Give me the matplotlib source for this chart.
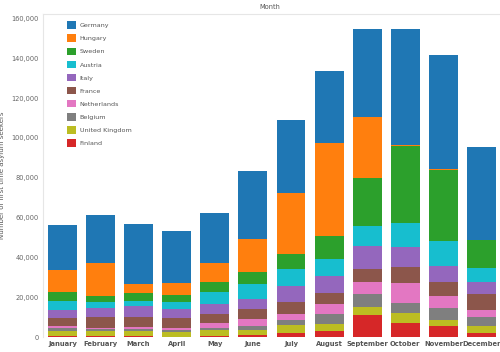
import matplotlib.pyplot as plt
import numpy as np
from matplotlib.ticker import FuncFormatter

# Months and first time asylum seekers per country
meses = ['January', 'February', 'March', 'April', 'May', 'June', 'July',
         'August', 'September', 'October', 'November', 'December']

finland = [500, 600, 300, 200, 700, 800, 2000, 2800, 10900, 7000, 5700, 2000]
united_kingdom = [2700, 2500, 2850, 2500, 2700, 2850, 4200, 3700, 4000, 5000, 3000, 3300]
belgium = [1200, 850, 1000, 850, 1200, 2000, 2500, 5200, 6700, 5300, 5900, 4500]
netherlands = [1200, 800, 650, 850, 2500, 3350, 3000, 5000, 6000, 10000, 5800, 3900]
france = [3900, 5200, 5500, 5000, 4500, 5000, 5700, 5400, 6800, 7700, 7200, 7900]
italy = [4200, 4500, 5500, 4500, 5000, 5200, 8400, 8700, 11400, 10000, 8200, 6000]
austria = [4200, 3300, 2500, 3800, 6000, 7500, 8500, 8500, 10200, 12400, 12200, 7300]
sweden = [4500, 3000, 3700, 3350, 4800, 6200, 7400, 11600, 23800, 38700, 36000, 13600]
hungary = [11400, 16600, 4700, 6200, 9700, 16300, 30700, 46600, 30700, 300, 200, 200]
germany = [22600, 24000, 30000, 26100, 25100, 34000, 36500, 36300, 44400, 58300, 57400, 46700]

# stacking order: bottom to top
series = [
    ('Finland', finland, '#d62728'),
    ('United Kingdom', united_kingdom, '#bcbd22'),
    ('Belgium', belgium, '#7f7f7f'),
    ('Netherlands', netherlands, '#e377c2'),
    ('France', france, '#8c564b'),
    ('Italy', italy, '#9467bd'),
    ('Austria', austria, '#17becf'),
    ('Sweden', sweden, '#2ca02c'),
    ('Hungary', hungary, '#ff7f0e'),
    ('Germany', germany, '#1f77b4'),
]

fig = plt.figure(figsize=(5, 3.52), dpi=100)
ax = fig.add_axes([43 / 500, (352 - 337) / 352, 456 / 500, (337 - 14) / 352])

x = np.arange(len(meses))
base = np.zeros(len(meses))
handles = {}
for nome, valores, cor in series:
    b = ax.bar(x, valores, width=0.76, bottom=base, color=cor, label=nome, linewidth=0)
    handles[nome] = b
    base = base + np.array(valores)

ax.set_xlim(-0.51, 11.46)
ax.set_ylim(0, 162300)
ax.set_yticks(np.arange(0, 160001, 20000))
ax.yaxis.set_major_formatter(FuncFormatter(lambda v, p: f'{int(v):,}'))
ax.set_xticks(x)
ax.set_xticklabels(meses, fontsize=4.9, fontweight='bold', color='#555555')
ax.tick_params(axis='y', labelsize=4.8, labelcolor='#666666', length=0, pad=3)
ax.tick_params(axis='x', length=0, pad=3)

for lado in ['right', 'bottom']:
    ax.spines[lado].set_visible(False)
for lado in ['top', 'left']:
    ax.spines[lado].set_color('#e6e6e6')
    ax.spines[lado].set_linewidth(0.8)

ax.set_ylabel('Number of first time asylum seekers', fontsize=5.0, color='#555555', labelpad=5)
fig.text(270 / 500, 1 - 7 / 352, 'Month', fontsize=4.8, color='#555555', ha='center', va='center')

ordem = [nome for nome, _, _ in series][::-1]
ax.legend([handles[n] for n in ordem], ordem, loc='upper left',
          bbox_to_anchor=(0.046, 0.985), frameon=False, fontsize=4.6,
          labelcolor='#555555', handlelength=1.45, handleheight=1.45,
          labelspacing=0.86, handletextpad=0.6, borderaxespad=0)

fig.savefig('out.png', dpi=100)
